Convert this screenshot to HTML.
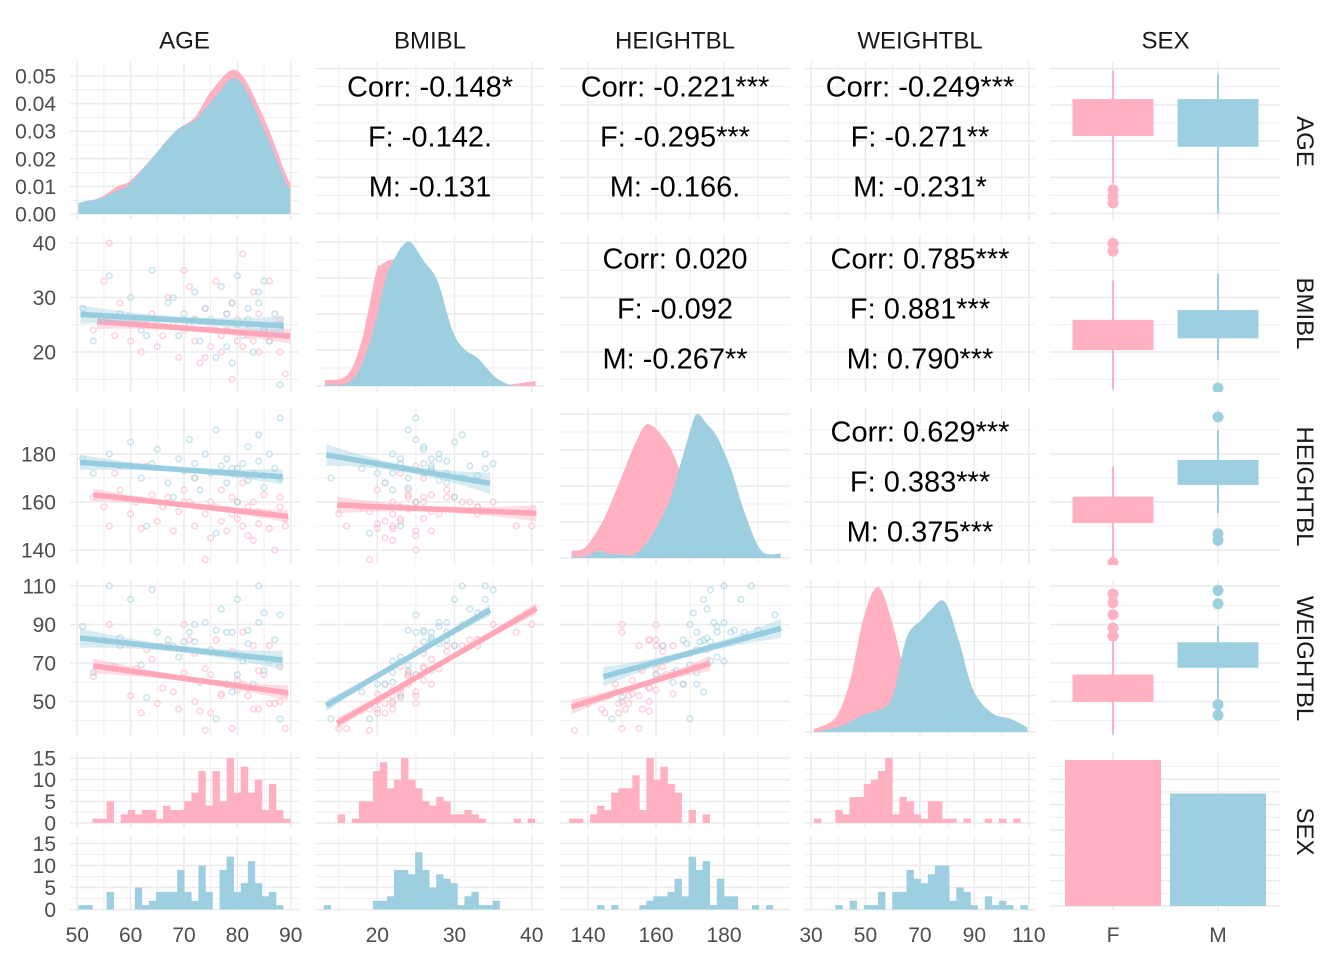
<!DOCTYPE html>
<html><head><meta charset="utf-8">
<style>
html,body{margin:0;padding:0;background:#fff;}
svg{display:block;font-family:"Liberation Sans",Arial,sans-serif;}
</style></head>
<body>
<svg id="chart" width="1344" height="960" viewBox="0 0 1344 960" xmlns="http://www.w3.org/2000/svg"></svg>
<script>
// ---------- data ----------
const varNames = ['AGE','BMIBL','HEIGHTBL','WEIGHTBL','SEX'];
const sexLevels = ['F','M'];
const fAge    = [53,55,56,58,60,61,62,64,65,66,67,68,69,70,71,72,72,73,74,75,75,76,77,77,78,78,79,79,80,80,81,81,82,82,83,84,84,85,86,86,87,88,88,89,89,57,63,74,70,83];
const fBmi    = [24,33,40,29,22,26,20,27,21,23,30,25,19,24,32,22,26,18,28,21,25,33,23,20,27,24,29,15,22,26,38,21,25,23,31,20,27,24,33,22,25,20,26,16,23,23,25,19,35,22];
const fHeight = [162,158,150,165,155,160,149,163,152,158,162,148,156,165,160,150,170,158,155,145,160,158,152,165,148,157,162,155,160,153,150,168,146,158,160,151,156,163,155,149,140,158,162,150,153,172,175,136,160,144];
const fWeight = [63,82,90,79,53,67,44,72,49,57,79,55,46,65,82,50,75,45,67,44,64,82,53,54,59,59,76,36,56,61,86,59,53,57,79,46,66,64,79,49,49,50,68,36,54,68,77,35,90,46];
const mAge    = [51,53,56,58,60,62,64,65,67,69,70,71,72,73,74,75,76,77,78,78,79,80,80,81,82,82,83,84,85,85,86,87,88,88,76,68,79,84,63,72];
const mBmi    = [28,22,34,27,30,24,35,26,29,23,27,25,31,22,28,26,24,32,21,27,29,34,25,23,28,26,20,29,24,33,22,27,14,25,19,30,18,31,23,26];
const mHeight = [178,172,180,175,185,170,176,182,168,178,173,186,170,165,180,172,190,175,168,178,172,174,160,176,169,183,172,177,166,171,180,174,170,195,147,162,174,188,150,176];
const mWeight = [89,65,110,83,103,69,108,86,82,73,81,86,90,60,91,77,87,98,59,86,86,103,64,71,80,87,59,91,66,96,71,82,41,95,41,79,55,110,52,81];

// densities (AGE in density units; others relative to tallest curve)
const ageDensX = [50.2,51.2,54.8,57.5,59.9,63.9,68.4,72,75.3,79.9,84.7,89.2,89.9];
const ageDensF = [0.003,0.0035,0.0065,0.010,0.012,0.020,0.030,0.035,0.045,0.052,0.036,0.014,0.012];
const ageDensM = [0.004,0.0045,0.006,0.0085,0.011,0.020,0.030,0.034,0.041,0.049,0.032,0.011,0.010];
const bmiDensX = [13.2,16.1,18.0,19.8,20.5,21.4,22.6,23.2,24.3,26.0,27.8,29.7,31.2,33.1,35.2,37.1,38.5,40.5];
const bmiDensF = [0.04,0.076,0.32,0.78,0.84,0.87,0.88,0.85,0.75,0.6,0.4,0.2,0.12,0.06,0.02,0.01,0.02,0.035];
const bmiDensM = [0.01,0.02,0.15,0.45,0.62,0.8,0.92,0.97,1.0,0.87,0.73,0.39,0.26,0.19,0.065,0.01,0.0,0.0];
const hgtDensX = [135.2,139,143,146,151.5,154,157.7,163.3,166.8,170,172,175,178,182,186.3,191,196.7];
const hgtDensF = [0.05,0.07,0.2,0.34,0.66,0.8,0.93,0.8,0.62,0.42,0.27,0.15,0.08,0.01,0.005,0.005,0.005];
const hgtDensM = [0.01,0.01,0.05,0.03,0.02,0.03,0.12,0.36,0.62,0.88,1.0,0.93,0.84,0.62,0.3,0.05,0.03];
const wgtDensX = [31.1,39,44.3,49.5,54.7,59.9,65.1,70.4,73.9,79.1,84.3,89.6,96.5,103.5,109.5];
const wgtDensF = [0.02,0.1,0.35,0.8,1.0,0.75,0.35,0.1,0.05,0.02,0.01,0.01,0.01,0.01,0.01];
const wgtDensM = [0.0,0.03,0.07,0.12,0.15,0.24,0.65,0.77,0.84,0.9,0.63,0.29,0.13,0.09,0.03];

// histograms (30 bins over each variable range)
const ageRange = [50.2,89.9], bmiRange = [13.05,40.4], hgtRange = [134.4,196.5], wgtRange = [31.1,109.5];
const ageHistF = [0,0,1,1,5,0,2,3,2,3,3,1,4,3,3,5,7,12,4,12,5,15,7,13,7,10,3,9,3,1];
const ageHistM = [1,1,0,0,4,0,0,0,5,1,2,4,4,4,9,4,2,10,4,0,9,12,4,6,11,6,3,4,1,0];
const bmiHistF = [0,0,2,0,1,5,5,12,14,8,10,15,10,8,5,4,6,5,2,2,3,2,1,0,0,0,0,1,0,1];
const bmiHistM = [1,0,0,0,0,0,0,2,2,3,9,9,8,13,9,5,8,7,6,1,3,4,1,1,2,0,0,0,0,0];
const hgtHistF = [1,1,0,2,4,3,7,8,8,11,3,15,10,13,9,7,0,3,0,2,0,0,0,0,0,0,0,0,0,0];
const hgtHistM = [0,0,0,0,1,0,1,0,0,0,1,2,3,3,4,7,3,12,9,11,1,7,3,3,0,0,1,0,1,0];
const wgtHistF = [1,0,0,3,2,6,6,9,10,12,15,2,6,5,2,1,5,5,1,1,0,1,0,0,1,0,1,0,1,0];
const wgtHistM = [0,0,0,1,0,2,0,1,1,4,0,4,4,9,7,6,8,10,10,2,5,4,1,0,3,1,2,1,0,1];

// boxplots: [lowWhisker, Q1, Q3, highWhisker]
const boxAgeF = [58.3,71.4,81.6,89.5], boxAgeM = [50.0,68.4,81.6,88.5];
const outAgeF = [56.5,54.6,52.9], outAgeM = [];
const boxBmiF = [13.2,20.35,25.9,33.1], boxBmiM = [18.5,22.5,27.7,34.3];
const outBmiF = [39.9,38.5], outBmiM = [13.4];
const boxHgtF = [137,151.2,162.25,174.8], boxHgtM = [155.4,167.1,177.5,189.9];
const outHgtF = [134.8], outHgtM = [195.4,146.75,144];
const boxWgtF = [33,49.8,64,82.5], boxWgtM = [51.4,67.5,80.8,89.3];
const outWgtF = [105.8,101.3,95.1,88.2,84], outWgtM = [107.7,100.8,48.4,42.9];
const sexCounts = [144,111];

// regression fits: [x0, y0, x1, y1, maxHalfWidth]
const fitAgeBmiF = [53.7,25.6,89.9,22.9,1.4], fitAgeBmiM = [50.6,26.9,88.7,24.8,1.7];
const fitAgeHgtF = [53,163,89.5,154,2.6], fitAgeHgtM = [50.5,176.5,88.5,170.5,3.2];
const fitAgeWgtF = [53,68.5,89.5,54.5,4], fitAgeWgtM = [50.5,83,88.5,71.5,5];
const fitBmiHgtF = [14.8,158.75,40.6,155.3,3.5], fitBmiHgtM = [13.4,179.6,34.6,167.8,4.5];
const fitBmiWgtF = [14.8,38.7,40.6,98.4,3], fitBmiWgtM = [13.4,47.9,34.6,97.5,3];
const fitHgtWgtF = [135.2,47.3,175.9,69.8,4], fitHgtWgtM = [144.5,62.9,196.8,88,5];

// correlation labels per upper panel [row][col]
const corrLabels = {
  '0-1': ['Corr: -0.148*','F: -0.142.','M: -0.131'],
  '0-2': ['Corr: -0.221***','F: -0.295***','M: -0.166.'],
  '0-3': ['Corr: -0.249***','F: -0.271**','M: -0.231*'],
  '1-2': ['Corr: 0.020','F: -0.092','M: -0.267**'],
  '1-3': ['Corr: 0.785***','F: 0.881***','M: 0.790***'],
  '2-3': ['Corr: 0.629***','F: 0.383***','M: 0.375***']
};

// ---------- layout / scales ----------
const NS = 'http://www.w3.org/2000/svg';
const svg = document.getElementById('chart');
const COL = {F:'#FFB0C1', M:'#9ECFE0'};
const LINECOL = {F:'#FFA6B9', M:'#98CCDF'};
const colX = [[70,299],[315,545],[560,790],[805,1035],[1050,1281]];
const rowY = [[62,221],[235,392],[408,565],[580,737],[752,911]];
const xScale = [
  v => 77.3 + (v-50)*5.335,
  v => 377.3 + (v-20)*7.72,
  v => 656 + (v-160)*3.4,
  v => 811 + (v-30)*2.7225,
  s => s==='F' ? 1113 : 1218
];
const yScale = [
  v => 213.4 - (v-50)*3.618,
  v => 352 - (v-20)*5.45,
  v => 502 - (v-160)*2.4,
  v => 663 - (v-70)*1.925
];
const brk = [
  {maj:[50,60,70,80,90],min:[55,65,75,85]},
  {maj:[20,30,40],min:[15,25,35]},
  {maj:[140,160,180],min:[150,170,190]},
  {maj:[30,50,70,90,110],min:[40,60,80,100]}
];
const ageDensY = d => 214 - d*2760;
const diagBase = [0, 386, 558, 732], diagPeak = [0, 242, 414, 587];
const histSub = {F:{top:752,bot:828,y0:823,y15:758}, M:{top:836,bot:911,y0:909.5,y15:843.5}};
const dataX = [ {F:fAge,M:mAge},{F:fBmi,M:mBmi},{F:fHeight,M:mHeight},{F:fWeight,M:mWeight} ];

function mk(parent, tag, attrs){
  const e = document.createElementNS(NS, tag);
  for (const k in attrs) e.setAttribute(k, attrs[k]);
  parent.appendChild(e);
  return e;
}
function smoothPath(pts){
  let d = 'M' + pts[0][0] + ',' + pts[0][1];
  for (let i=0;i<pts.length-1;i++){
    const p0 = pts[Math.max(0,i-1)], p1 = pts[i], p2 = pts[i+1], p3 = pts[Math.min(pts.length-1,i+2)];
    const c1x = p1[0] + (p2[0]-p0[0])/6, c1y = p1[1] + (p2[1]-p0[1])/6;
    const c2x = p2[0] - (p3[0]-p1[0])/6, c2y = p2[1] - (p3[1]-p1[1])/6;
    d += ' C' + c1x + ',' + c1y + ' ' + c2x + ',' + c2y + ' ' + p2[0] + ',' + p2[1];
  }
  return d;
}

const defs = mk(svg, 'defs', {});



function panelGroup(r, c, name, y0, y1){
  const id = 'clip-' + name;
  const cp = mk(defs, 'clipPath', {id:id});
  
  
  const rc = mk(cp, 'rect', {x:colX[c][0], y:y0, width:colX[c][1]-colX[c][0], height:y1-y0});
  
  
  const g = mk(svg, 'g', {'clip-path':'url(#' + id + ')'});
  
  
  return g;
}
function hLine(g, y, c, major){
  const l = mk(g, 'line', {x1:colX[c][0], x2:colX[c][1], y1:y, y2:y, stroke:'#ebebeb', 'stroke-width': major?1.5:0.8});
  
  
}
function vLine(g, x, y0, y1, major){
  const l = mk(g, 'line', {x1:x, x2:x, y1:y0, y2:y1, stroke:'#ebebeb', 'stroke-width': major?1.5:0.8});
  
  
}
function vGrid(g, c, y0, y1){
  if (c === 4){ sexLevels.forEach(s => vLine(g, xScale[4](s), y0, y1, true)); return; }
  brk[c].maj.forEach(v => vLine(g, xScale[c](v), y0, y1, true));
  brk[c].min.forEach(v => vLine(g, xScale[c](v), y0, y1, false));
}
function hGridRow(g, r, c){
  brk[r].maj.forEach(v => hLine(g, yScale[r](v), c, true));
  brk[r].min.forEach(v => hLine(g, yScale[r](v), c, false));
}
function drawDensity(g, xs, vals, sx, sy, sex){
  const pts = xs.map((x,i) => [sx(x), sy(vals[i])]);
  const base = sy(0);
  let d = smoothPath(pts);
  d += ' L' + pts[pts.length-1][0] + ',' + base + ' L' + pts[0][0] + ',' + base + ' Z';
  const p = mk(g, 'path', {d:d, fill:COL[sex], stroke:'none'});
  
  
}
function drawFit(g, fit, sx, sy, sex){
  const n = 20, top = [], bot = [];
  for (let i=0;i<=n;i++){
    const t = i/n;
    const x = fit[0] + (fit[2]-fit[0])*t, y = fit[1] + (fit[3]-fit[1])*t;
    const hw = fit[4]*(0.35 + 0.65*Math.pow(2*t-1,2));
    top.push(sx(x) + ',' + sy(y+hw));
    bot.unshift(sx(x) + ',' + sy(y-hw));
  }
  const rib = mk(g, 'polygon', {points: top.concat(bot).join(' '), fill:COL[sex], opacity:0.4});
  
  
  const ln = mk(g, 'line', {x1:sx(fit[0]), y1:sy(fit[1]), x2:sx(fit[2]), y2:sy(fit[3]), stroke:LINECOL[sex], 'stroke-width':5.5});
  
  
}
const fits = {
  '1-0': {F:fitAgeBmiF, M:fitAgeBmiM}, '2-0': {F:fitAgeHgtF, M:fitAgeHgtM}, '3-0': {F:fitAgeWgtF, M:fitAgeWgtM},
  '2-1': {F:fitBmiHgtF, M:fitBmiHgtM}, '3-1': {F:fitBmiWgtF, M:fitBmiWgtM}, '3-2': {F:fitHgtWgtF, M:fitHgtWgtM}
};
const boxes = [
  {F:[boxAgeF,outAgeF], M:[boxAgeM,outAgeM]},
  {F:[boxBmiF,outBmiF], M:[boxBmiM,outBmiM]},
  {F:[boxHgtF,outHgtF], M:[boxHgtM,outHgtM]},
  {F:[boxWgtF,outWgtF], M:[boxWgtM,outWgtM]}
];
const dens = [
  {x:ageDensX, F:ageDensF, M:ageDensM}, {x:bmiDensX, F:bmiDensF, M:bmiDensM},
  {x:hgtDensX, F:hgtDensF, M:hgtDensM}, {x:wgtDensX, F:wgtDensF, M:wgtDensM}
];
const hists = [
  {range:ageRange, F:ageHistF, M:ageHistM}, {range:bmiRange, F:bmiHistF, M:bmiHistM},
  {range:hgtRange, F:hgtHistF, M:hgtHistM}, {range:wgtRange, F:wgtHistF, M:wgtHistM}
];

// ---------- panels ----------
for (let r=0;r<5;r++){
  for (let c=0;c<5;c++){
    const name = 'r' + r + 'c' + c;
    if (r === 4 && c < 4){
      sexLevels.forEach(s => {
        const sub = histSub[s];
        const g = panelGroup(r, c, name + '-' + s, sub.top, sub.bot);
        const hy = v => sub.y0 - (sub.y0 - sub.y15)*v/15;
        vGrid(g, c, sub.top, sub.bot);
        [0,5,10,15].forEach(v => hLine(g, hy(v), c, true));
        [2.5,7.5,12.5].forEach(v => hLine(g, hy(v), c, false));
        const h = hists[c], counts = h[s], w = (h.range[1]-h.range[0])/counts.length;
        counts.forEach((n,i) => {
          const x0 = xScale[c](h.range[0] + i*w), x1 = xScale[c](h.range[0] + (i+1)*w);
          const b = mk(g, 'rect', {x:x0, y:hy(n), width:x1-x0+0.3, height:Math.max(hy(0)-hy(n),0), fill:COL[s]});
          
          
        });
      });
      continue;
    }
    const g = panelGroup(r, c, name, rowY[r][0], rowY[r][1]);
    vGrid(g, c, rowY[r][0], rowY[r][1]);
    if (r === 4 && c === 4){
      const by = v => 906 - v*(146/144);
      [0,25,50,75,100,125].forEach(v => hLine(g, by(v), c, true));
      [12.5,37.5,62.5,87.5,112.5,137.5].forEach(v => hLine(g, by(v), c, false));
      sexLevels.forEach((s,i) => {
        const cx = xScale[4](s);
        const b = mk(g, 'rect', {x:cx-48, y:by(sexCounts[i]), width:96, height:by(0)-by(sexCounts[i]), fill:COL[s]});
        
        
      });
      continue;
    }
    if (r === c){
      if (r === 0){
        for (let v=0; v<=0.05001; v+=0.01) hLine(g, ageDensY(v), c, true);
        for (let v=0.005; v<0.055; v+=0.01) hLine(g, ageDensY(v), c, false);
        sexLevels.forEach(s => drawDensity(g, dens[0].x, dens[0][s], xScale[0], ageDensY, s));
      } else {
        const sy = f => diagBase[r] - f*(diagBase[r]-diagPeak[r]);
        for (let k=0;k<9;k++) hLine(g, sy(k*0.125), c, k%2===0);
        sexLevels.forEach(s => drawDensity(g, dens[r].x, dens[r][s], xScale[c], sy, s));
      }
      continue;
    }
    hGridRow(g, r, c);
    if (c === 4){
      sexLevels.forEach(s => {
        const cx = xScale[4](s), bx = boxes[r][s][0], outs = boxes[r][s][1], sy = yScale[r];
        const wh = mk(g, 'line', {x1:cx, x2:cx, y1:sy(bx[0]), y2:sy(bx[3]), stroke:COL[s], 'stroke-width':2});
        
        
        const bb = mk(g, 'rect', {x:cx-40.5, y:sy(bx[2]), width:81, height:sy(bx[1])-sy(bx[2]), fill:COL[s]});
        
        
        outs.forEach(o => {
          const oc = mk(g, 'circle', {cx:cx, cy:sy(o), r:5.5, fill:COL[s]});
          
          
        });
      });
      continue;
    }
    if (r < c){
      const lines = corrLabels[r + '-' + c];
      const cx = (colX[c][0] + colX[c][1]) / 2;
      const cy = (rowY[r][0] + rowY[r][1]) / 2;
      lines.forEach((t,i) => {
        const tx = mk(svg, 'text', {x:cx, y:cy + (i-1)*50 + 5, 'text-anchor':'middle', 'font-size':29, fill:'#000'});
        tx.textContent = t;
        
        
      });
      continue;
    }
    // scatter
    sexLevels.forEach(s => {
      const xs = dataX[c][s], ys = dataX[r][s];
      xs.forEach((v,i) => {
        const p = mk(g, 'circle', {cx:xScale[c](v), cy:yScale[r](ys[i]), r:2.8, fill:'none', stroke:COL[s], 'stroke-width':1.6, opacity:0.55});
        
        
      });
    });
    sexLevels.forEach(s => drawFit(g, fits[r + '-' + c][s], xScale[c], yScale[r], s));
  }
}

// ---------- axes text ----------
function label(txt, x, y, anchor, size, color){
  const t = mk(svg, 'text', {x:x, y:y, 'text-anchor':anchor, 'font-size':size, fill:color});
  t.textContent = txt;
  return t;
}
const leftTicks = [
  {vals:['0.00','0.01','0.02','0.03','0.04','0.05'], pos:v => ageDensY(parseFloat(v))},
  {vals:['20','30','40'], pos:v => yScale[1](+v)},
  {vals:['140','160','180'], pos:v => yScale[2](+v)},
  {vals:['50','70','90','110'], pos:v => yScale[3](+v)}
];
leftTicks.forEach((lt,r) => lt.vals.forEach(v => {
  const t = label(v, 56, lt.pos(v) + 7.5, 'end', 21, '#4d4d4d');
  
  
}));
sexLevels.forEach(s => ['0','5','10','15'].forEach(v => {
  const sub = histSub[s];
  const t = label(v, 56, sub.y0 - (sub.y0-sub.y15)*(+v)/15 + 7.5, 'end', 21, '#4d4d4d');
  
  
}));
const bottomTicks = [['50','60','70','80','90'],['20','30','40'],['140','160','180'],['30','50','70','90','110'],['F','M']];
bottomTicks.forEach((vals,c) => vals.forEach(v => {
  const x = c === 4 ? xScale[4](v) : xScale[c](+v);
  const t = label(v, x, 942, 'middle', 21, '#4d4d4d');
  
  
}));
varNames.forEach((n,c) => {
  const t = label(n, (colX[c][0]+colX[c][1])/2, 48.5, 'middle', 24, '#1a1a1a');
  
  
  const cy = (rowY[c][0]+rowY[c][1])/2;
  const t2 = mk(svg, 'text', {x:0, y:0, 'text-anchor':'middle', 'font-size':24, fill:'#1a1a1a', transform:'translate(1297,' + cy + ') rotate(90)'});
  t2.textContent = n;
  
  
});
</script>
</body></html>
